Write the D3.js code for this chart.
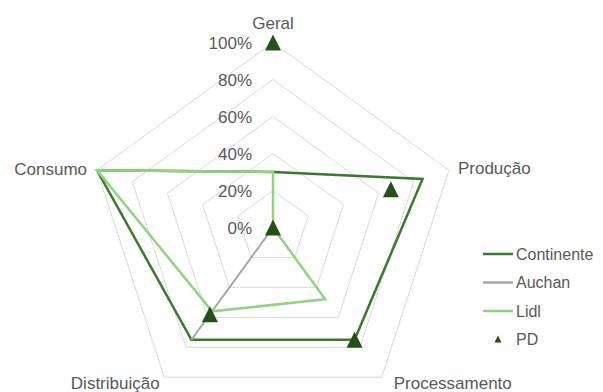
<!DOCTYPE html>
<html><head><meta charset="utf-8">
<script src="https://cdn.jsdelivr.net/npm/d3@7"></script>
<style>body{margin:0;background:#fff}svg{display:block}text{font-family:"Liberation Sans",Arial,sans-serif;fill:#595959}</style>
</head><body><svg id="c" width="603" height="392"></svg>
<script>
const axes = ["Geral","Produção","Processamento","Distribuição","Consumo"];
const continente = [30,85,75,75,100];
const auchan = [0,0,0,75,0];
const lidl = [30,0,48,56,100];
const pd = [100,67,75,58,0];
const tickLabels = [0,20,40,60,80,100];
const seriesNames = ["Continente","Auchan","Lidl","PD"];

const svg = d3.select("#c");
const cx = 273, cy = 227.5, R = 185;
const r = d3.scaleLinear().domain([0,100]).range([0,R]);
const ang = d3.scaleLinear().domain([0,axes.length]).range([0,2*Math.PI]);
const pt = (i,v)=>[cx + r(v)*Math.sin(ang(i)), cy - r(v)*Math.cos(ang(i))];

// grid rings
const g = svg.append("g");
tickLabels.slice(1).forEach(t=>{
  g.append("polygon").attr("points", axes.map((a,i)=>pt(i,t).join(",")).join(" "))
   .attr("fill","none").attr("stroke","#d9d9d9").attr("stroke-width",1);
});
// tick labels
tickLabels.forEach(t=>{
  svg.append("text").attr("x",252).attr("y",cy - r(t)).attr("dy","0.36em")
    .attr("text-anchor","end").attr("font-size",17).text(t+"%");
});
// axis labels
const labOff = [[0,-14,"middle"],[9,4,"start"],[71,11.5,"middle"],[-49,11.5,"middle"],[-10,5,"end"]];
axes.forEach((a,i)=>{
  const p = pt(i,100);
  svg.append("text").attr("x",p[0]+labOff[i][0]).attr("y",p[1]+labOff[i][1])
    .attr("text-anchor",labOff[i][2]).attr("font-size",17).text(a);
});
const line = d3.lineRadial().angle((d,i)=>ang(i)).radius(d=>r(d)).curve(d3.curveLinearClosed);
const plot = svg.append("g").attr("transform",`translate(${cx},${cy})`);
const cols = {Continente:"#3a7a2c", Auchan:"#a6a6a6", Lidl:"#8fd47f", PD:"#26501a"};
[[continente,"Continente",2.5],[auchan,"Auchan",2],[lidl,"Lidl",2.5]].forEach(([d,n,w])=>{
  plot.append("path").attr("d",line(d)).attr("fill","none").attr("stroke",cols[n]).attr("stroke-width",w).attr("stroke-linejoin","miter");
});
const tri = (s)=>`M0,${-s/2}L${s/2},${s/2}L${-s/2},${s/2}Z`;
pd.forEach((v,i)=>{
  const p = pt(i,v);
  svg.append("path").attr("d",tri(16)).attr("transform",`translate(${p[0]},${p[1]})`).attr("fill",cols.PD);
});
// legend
const lg = svg.append("g");
seriesNames.forEach((n,i)=>{
  const y = 254 + i*28.5;
  if(n!=="PD"){
    lg.append("line").attr("x1",483).attr("x2",513).attr("y1",y).attr("y2",y).attr("stroke",cols[n]).attr("stroke-width",2.5);
  } else {
    lg.append("path").attr("d",tri(7)).attr("transform",`translate(498,${y-0.5})`).attr("fill",cols.PD);
  }
  lg.append("text").attr("x",516).attr("y",y).attr("dy","0.36em").attr("font-size",16).text(n);
});
</script></body></html>
